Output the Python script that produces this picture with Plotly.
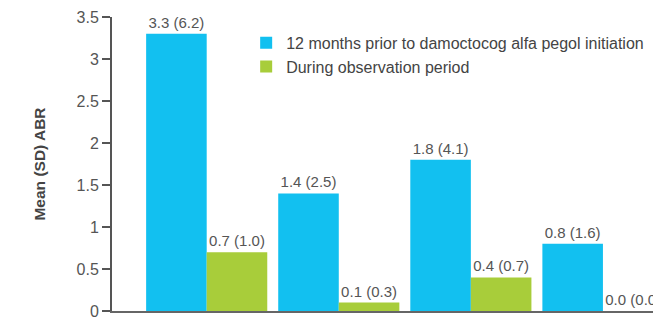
import plotly.graph_objects as go

categories = ["Group 1", "Group 2", "Group 3", "Group 4"]
prior_mean = [3.3, 1.4, 1.8, 0.8]
prior_sd = [6.2, 2.5, 4.1, 1.6]
obs_mean = [0.7, 0.1, 0.4, 0.0]
obs_sd = [1.0, 0.3, 0.7, 0.0]
series_names = ["12 months prior to damoctocog alfa pegol initiation",
                "During observation period"]
y_ticks = [0, 0.5, 1, 1.5, 2, 2.5, 3, 3.5]
y_tick_text = ["0", "0.5", "1", "1.5", "2", "2.5", "3", "3.5"]

FONT = "Liberation Sans, Arial, sans-serif"

def labels(m, s):
    return [f"{a:.1f} ({b:.1f})" for a, b in zip(m, s)]

fig = go.Figure()
fig.add_trace(go.Bar(
    x=categories, y=prior_mean, name=series_names[0],
    marker=dict(color="#12C0F0", line=dict(width=0)),
    text=labels(prior_mean, prior_sd), textposition="outside",
    textfont=dict(size=15, color="#555555", family=FONT),
    cliponaxis=False,
))
fig.add_trace(go.Bar(
    x=categories, y=obs_mean, name=series_names[1],
    marker=dict(color="#A8CD3A", line=dict(width=0)),
    text=labels(obs_mean, obs_sd), textposition="outside",
    textfont=dict(size=15, color="#555555", family=FONT),
    cliponaxis=False,
))

fig.update_layout(
    width=653, height=320,
    margin=dict(l=112, r=0, t=17, b=9),
    barmode="group", bargap=0.083, bargroupgap=0,
    plot_bgcolor="white", paper_bgcolor="white",
    font=dict(family=FONT, color="#555555"),
    showlegend=True,
    legend=dict(
        x=0.248, y=0.97, xanchor="left", yanchor="top",
        font=dict(size=16, color="#444444", family=FONT),
        bgcolor="rgba(0,0,0,0)", tracegroupgap=0,
    ),
    xaxis=dict(
        range=[-0.717, 3.379], showticklabels=False, ticks="",
        showline=True, linecolor="#666666", linewidth=2,
        showgrid=False, zeroline=False,
    ),
    yaxis=dict(
        range=[0, 3.5], tickvals=y_ticks, ticktext=y_tick_text,
        ticks="outside", ticklen=8, tickwidth=1.5, tickcolor="#555555",
        showline=True, linecolor="#555555", linewidth=2,
        showgrid=False, zeroline=False,
        tickfont=dict(size=16, color="#555555", family=FONT),
        title=dict(text="<b>Mean (SD) ABR</b>", standoff=27,
                   font=dict(size=15.5, color="#444444", family=FONT)),
    ),
)

fig.write_html("out.html")
